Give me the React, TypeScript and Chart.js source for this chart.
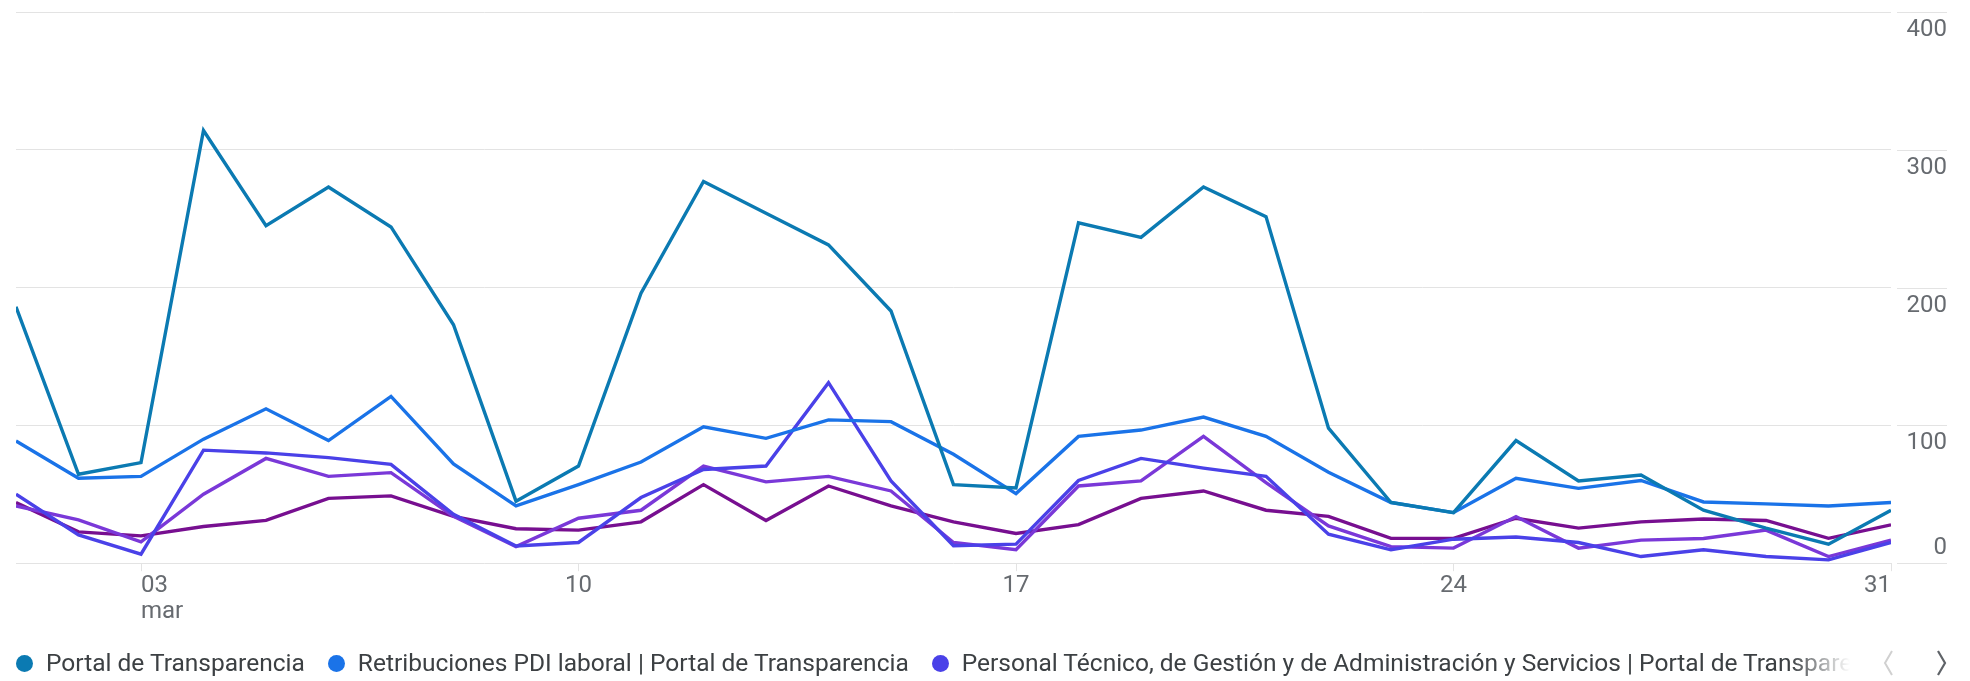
import React, { useEffect, useRef } from 'react';
import { Chart, registerables } from 'chart.js';

Chart.register(...registerables);

// ---- Data ----
const days = [1, 2, 3, 4, 5, 6, 7, 8, 9, 10, 11, 12, 13, 14, 15, 16, 17, 18, 19, 20, 21, 22, 23, 24, 25, 26, 27, 28, 29, 30, 31];

const xTickDays = [3, 10, 17, 24, 31];
const xTickLabels = ['03', '10', '17', '24', '31'];
const monthLabel = 'mar';

const yTickValues = [0, 100, 200, 300, 400];

const seriesNames = [
  'Portal de Transparencia',
  'Retribuciones PDI laboral | Portal de Transparencia',
  'Personal Técnico, de Gestión y de Administración y Servicios | Portal de Transparencia',
  'Retribuciones PDI funcionario | Portal de Transparencia',
  'Retribuciones PTGAS | Portal de Transparencia',
];

const portalTransparencia = [186, 64.5, 73, 314, 245, 273, 244, 173, 45, 70.5, 196, 277, 254, 231, 183, 57, 54.6, 247, 236.5, 273, 251.5, 98, 44, 36.7, 89, 59.7, 64, 38.4, 25.4, 13.8, 38.4];
const retribucionesPdiLaboral = [88.6, 61.6, 63, 90, 112, 89, 121, 72, 41.5, 57, 73.4, 99, 90.6, 104, 102.7, 79, 50.5, 92, 96.6, 106, 92, 66, 44, 36.7, 61.6, 54.3, 60, 44.4, 43, 41.5, 44];
const personalTecnico = [50, 20.5, 6.5, 82, 80, 76.6, 71.7, 35.5, 12.5, 15, 47.6, 68, 70.5, 131, 59.7, 12.6, 13.8, 60, 76, 69, 63, 21, 9.7, 17.4, 19, 15, 4.8, 9.7, 4.8, 2.4, 15];
const serie4 = [41.5, 31.4, 15.5, 50, 76, 63, 65.7, 34, 12, 32.6, 38.4, 70.5, 59, 63, 52.4, 15, 9.7, 56, 59.7, 92, 58.5, 27, 12, 10.9, 33.8, 10.9, 16.7, 17.9, 24, 4.8, 16.7];
const serie5 = [44, 22.7, 19.8, 26.6, 31, 47, 48.8, 34, 25, 24, 30, 57, 31, 56, 41.5, 30, 21.5, 28, 47, 52.4, 38.4, 34, 18, 18, 32.6, 25.4, 30, 32, 31, 18, 27.8];

const seriesValues = [portalTransparencia, retribucionesPdiLaboral, personalTecnico, serie4, serie5];
const seriesColors = ['#0b7ab2', '#1a73e8', '#4a41e8', '#7a38d8', '#770f90'];

const FONT = 'Roboto';
const AXIS_TEXT = '#676b70';
const GRID = '#e3e3e3';

const rightAxisPlugin = {
  id: 'rightAxisLabels',
  afterDraw(chart: any) {
    const { ctx, chartArea, scales } = chart;
    const y = scales.y;
    ctx.save();
    ctx.font = `400 24px ${FONT}`;
    ctx.fillStyle = AXIS_TEXT;
    ctx.textAlign = 'right';
    ctx.textBaseline = 'alphabetic';
    ctx.strokeStyle = GRID;
    ctx.lineWidth = 1;
    const x0 = chartArea.right + 6;
    const x1 = chartArea.right + 56;
    yTickValues.forEach((v) => {
      const py = Math.round(y.getPixelForValue(v)) + 0.5;
      ctx.beginPath();
      ctx.moveTo(x0, py);
      ctx.lineTo(x1, py);
      ctx.stroke();
      const ty = v === 0 ? py - 10 : py + 23;
      ctx.fillText(String(v), x1, ty);
    });
    ctx.restore();
  },
};

export default function App() {
  const canvasRef = useRef<HTMLCanvasElement | null>(null);

  useEffect(() => {
    const canvas = canvasRef.current;
    if (!canvas) return;
    const chart = new Chart(canvas, {
      type: 'line',
      data: {
        datasets: seriesValues.map((vals, i) => ({
          label: seriesNames[i],
          data: days.map((d, j) => ({ x: d, y: vals[j] })),
          borderColor: seriesColors[i],
          backgroundColor: seriesColors[i],
          borderWidth: 3.4,
          pointRadius: 0,
          pointHoverRadius: 0,
          tension: 0,
          fill: false,
        })),
      },
      options: {
        animation: false,
        responsive: false,
        maintainAspectRatio: false,
        devicePixelRatio: 1,
        layout: { padding: { left: 16, right: 79, top: 12, bottom: 54 } },
        plugins: {
          legend: { display: false },
          tooltip: { enabled: false },
        },
        scales: {
          x: {
            type: 'linear',
            min: days[0],
            max: days[days.length - 1],
            afterBuildTicks: (axis: any) => {
              axis.ticks = xTickDays.map((v) => ({ value: v }));
            },
            grid: {
              drawOnChartArea: false,
              drawTicks: true,
              tickLength: 8,
              color: GRID,
            },
            border: { display: false },
            ticks: {
              autoSkip: false,
              maxRotation: 0,
              minRotation: 0,
              align: 'inner',
              padding: 2,
              color: AXIS_TEXT,
              font: { family: FONT, size: 24, lineHeight: 1.08 },
              callback: (value: any) => {
                const idx = xTickDays.indexOf(Number(value));
                if (idx < 0) return '';
                return idx === 0 ? [xTickLabels[idx], monthLabel] : xTickLabels[idx];
              },
            },
          },
          y: {
            position: 'right',
            min: yTickValues[0],
            max: yTickValues[yTickValues.length - 1],
            ticks: { display: false, stepSize: 100 },
            grid: { color: GRID, lineWidth: 1, drawTicks: false },
            border: { display: false },
          },
        },
      },
      plugins: [rightAxisPlugin],
    } as any);
    return () => chart.destroy();
  }, []);

  return (
    <div style={{ position: 'absolute', left: 0, top: 0, width: 1970, height: 681, background: '#fff', overflow: 'hidden' }}>
      <canvas ref={canvasRef} width={1970} height={681} style={{ position: 'absolute', left: 0, top: 0, display: 'block' }} />
      <div
        style={{
          position: 'absolute',
          left: 0,
          top: 645,
          width: 1850,
          height: 36,
          overflow: 'hidden',
          whiteSpace: 'nowrap',
          display: 'flex',
          alignItems: 'center',
          WebkitMaskImage: 'linear-gradient(to right, #000 calc(100% - 60px), transparent)',
          maskImage: 'linear-gradient(to right, #000 calc(100% - 60px), transparent)',
        }}
      >
        {seriesNames.map((name, i) => (
          <span
            key={name}
            style={{ display: 'inline-flex', alignItems: 'center', marginLeft: i === 0 ? 16 : 0, marginRight: 23, flex: 'none' }}
          >
            <span style={{ width: 17, height: 17, borderRadius: '50%', background: seriesColors[i], marginRight: 13, flex: 'none' }} />
            <span style={{ fontFamily: FONT, fontSize: 24.5, color: '#3c4043', lineHeight: '36px' }}>{name}</span>
          </span>
        ))}
      </div>
      <svg style={{ position: 'absolute', left: 1878, top: 647 }} width={80} height={32}>
        <polyline points="14,4 7,16 14,28" fill="none" stroke="#d0d0d0" strokeWidth={2} />
        <polyline points="60,4 67,16 60,28" fill="none" stroke="#5f6368" strokeWidth={2.2} />
      </svg>
    </div>
  );
}
